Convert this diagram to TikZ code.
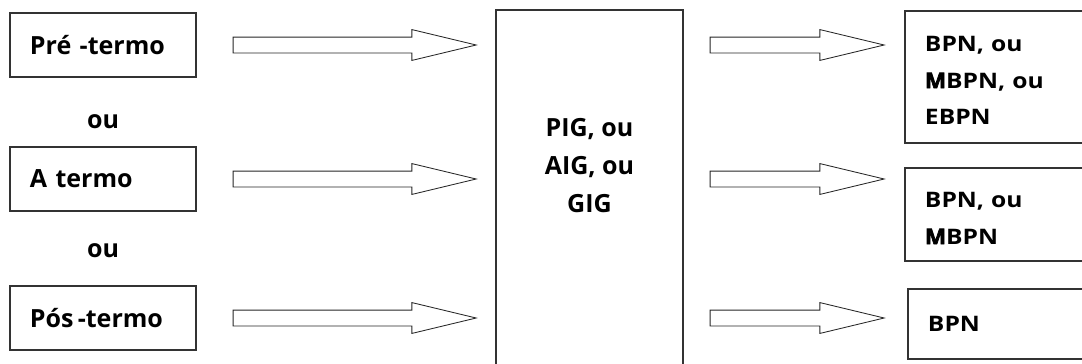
\documentclass[tikz,border=0pt]{standalone}
\usepackage{fontspec}
\setmainfont{Open Sans}
\newfontfamily\widefont{Open Sans}[FakeStretch=1.15]
\newfontfamily\heavyfont{Open Sans}[FakeStretch=1.05, FakeBold=3]
\usetikzlibrary{positioning, calc, shapes.arrows}

\tikzset{
  stagebox/.style={rectangle, draw=black!80, line width=0.9pt, minimum width=4.65cm, minimum height=1.6cm,
    inner xsep=0.5cm, inner ysep=0pt, text width=3.65cm, align=left,
    font=\fontsize{17.8}{27}\selectfont\bfseries},
  orlabel/.style={font=\fontsize{17.8}{27}\selectfont\bfseries, anchor=base},
  growthbox/.style={rectangle, draw=black!80, line width=0.9pt, minimum width=4.675cm},
  growthtext/.style={align=center, font=\fontsize{17.8}{27}\selectfont\bfseries},
  outbox/.style={rectangle, draw=black!80, line width=0.9pt, inner xsep=0.5cm, inner ysep=0pt,
    text width=3.9cm, align=left, font=\widefont\fontsize{15.2}{26.3}\selectfont\bfseries},
  blockarrow/.style={single arrow, draw=black!85, line width=0.6pt, fill=white, inner xsep=0pt,
    inner ysep=0.1875cm, single arrow head extend=0.1875cm, single arrow tip angle=27,
    single arrow head indent=0pt, anchor=tail}
}
\newcommand{\heavyM}{{\heavyfont\bfseries M}}

\begin{document}
\begin{tikzpicture}[x=0.025cm,y=-0.025cm]
\useasboundingbox (0,0) rectangle (1082,363);
\clip (0,0) rectangle (1082,363);

% left column
\node[stagebox] (pre) at (103,45) {Pré -termo};
\node[stagebox] (aterm) at (103,179) {A termo};
\node[stagebox] (pos) at (103,318) {Pós\,-termo};
\node[orlabel] (ou1) at (103,128) {ou};
\node[orlabel] (ou2) at (103,257) {ou};

% middle
\node[growthbox, minimum height=9.75cm] (cbox) at (589.5,205) {};
\node[growthtext] (ctext) at (589.5,166) {PIG, ou\\AIG, ou\\GIG};

% right column
\node[outbox, minimum height=3.3cm] (out1) at (1003,77) {\rule{0pt}{0.55cm}BPN, ou\\\heavyM BPN, ou\\EBPN};
\node[outbox, minimum height=2.325cm] (out2) at (1003,214.5) {\rule{0pt}{0.55cm}BPN, ou\\\heavyM BPN};
\node[outbox, minimum height=1.75cm] (out3) at (1006,324) {BPN};

% arrows in
\node[blockarrow, minimum height=6.075cm] (in1) at ([xshift=0.9cm]pre.east) {};
\node[blockarrow, minimum height=6.075cm] (in2) at ([xshift=0.9cm]aterm.east) {};
\node[blockarrow, minimum height=6.075cm] (in3) at ([xshift=0.9cm]pos.east) {};

% arrows out
\node[blockarrow, minimum height=4.35cm] (res1) at ($(in1.tail -| cbox.east)+(0.65cm,0)$) {};
\node[blockarrow, minimum height=4.35cm] (res2) at ($(in2.tail -| cbox.east)+(0.65cm,0)$) {};
\node[blockarrow, minimum height=4.35cm] (res3) at ($(in3.tail -| cbox.east)+(0.65cm,0)$) {};

\end{tikzpicture}
\end{document}
